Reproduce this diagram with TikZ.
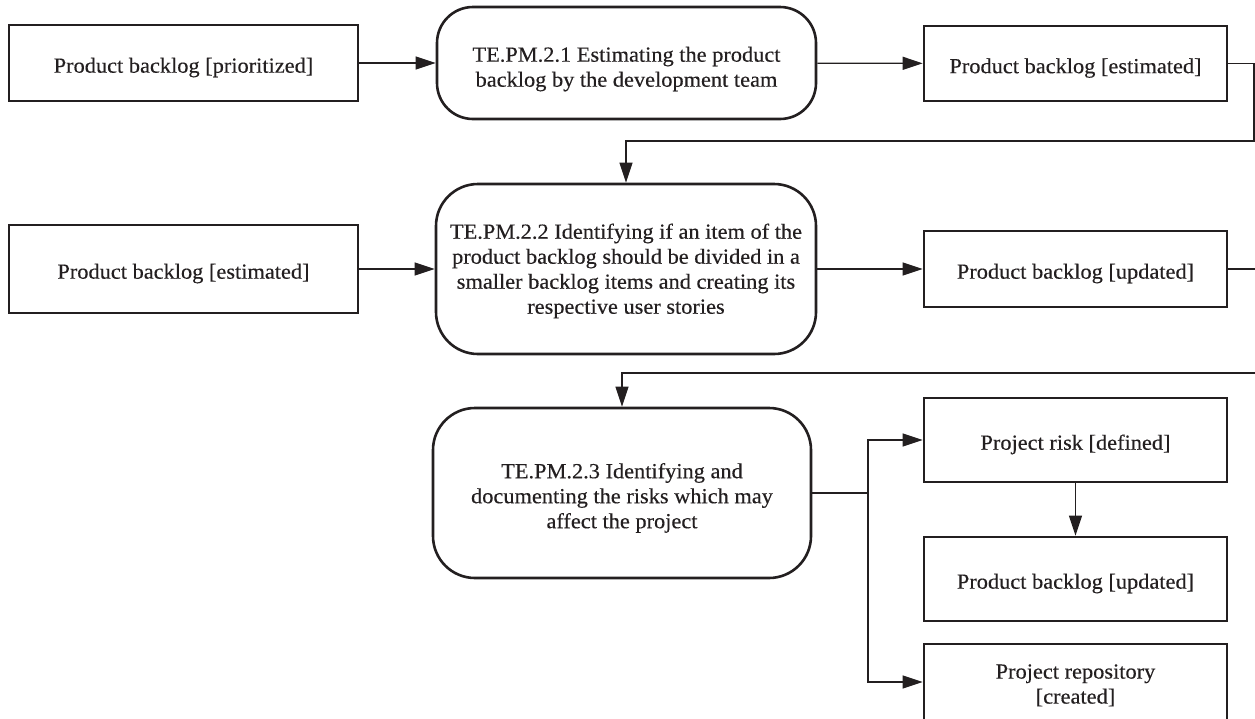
\documentclass[tikz,border=0pt]{standalone}
\usepackage{fontspec}
\setmainfont{Liberation Serif}[FakeStretch=1.04,FakeBold=0.35]
\usetikzlibrary{arrows.meta}
\definecolor{ink}{HTML}{231F20}
% invisible strut that sets the height of a node's first line
\newcommand\firstline[1]{\rule{0pt}{#1}}
\begin{document}
\begin{tikzpicture}[x=1pt,y=-1pt,
  every node/.style={font=\fontsize{21.5pt}{25pt}\selectfont, text=ink},
  artefact/.style={draw=ink, line width=2.6pt, rectangle, align=center, inner sep=0pt},
  activity/.style={draw=ink, line width=2.6pt, rectangle, align=center, inner sep=0pt},
  flow/.style={draw=ink, line width=1.2pt, -{Triangle[length=20pt,width=13pt]}},
  plain/.style={draw=ink, line width=1.2pt}
]
\useasboundingbox (0,0) rectangle (1255,718);

% row 1
\node[artefact, minimum width=349pt, minimum height=76pt] (A) at (183.5,63)
  {\firstline{24pt}Product backlog [prioritized]};
\node[activity, rounded corners=36pt, minimum width=379pt, minimum height=112pt] (P1) at (626.5,63)
  {\firstline{27pt}TE.PM.2.1 Estimating the product\\backlog by the development team};
\node[artefact, minimum width=303pt, minimum height=75pt] (B) at (1075.5,63.5)
  {\firstline{24pt}Product backlog [estimated]};

% row 2
\node[artefact, minimum width=349pt, minimum height=88pt] (C) at (183.5,269)
  {\firstline{24pt}Product backlog [estimated]};
\node[activity, rounded corners=42pt, minimum width=380pt, minimum height=170pt] (P2) at (626,269)
  {\firstline{19pt}TE.PM.2.2 Identifying if an item of the\\product backlog should be divided in a\\smaller backlog items and creating its\\respective user stories};
\node[artefact, minimum width=303pt, minimum height=76pt] (D) at (1075.5,269)
  {\firstline{24pt}Product backlog [updated]};

% row 3
\node[activity, rounded corners=42pt, minimum width=378pt, minimum height=170pt] (P3) at (622,493)
  {\firstline{25pt}TE.PM.2.3 Identifying and\\documenting the risks which may\\affect the project};
\node[artefact, minimum width=303pt, minimum height=84pt] (E) at (1075.5,440)
  {\firstline{24pt}Project risk [defined]};
\node[artefact, minimum width=303pt, minimum height=84pt] (F) at (1075.5,579)
  {\firstline{24pt}Product backlog [updated]};
\node[artefact, minimum width=303pt, minimum height=76pt] (G) at (1075.5,682)
  {\firstline{21pt}Project repository\\{[created]}};

% routing points
\coordinate (r1) at (1254,141);
\coordinate (r2) at (1260,373);
\coordinate (j) at (868,493);

% connectors
\draw[flow] (A) -- (P1);
\draw[flow] (P1) -- (B);
\draw[flow] (B.east) -| (r1) -| (P2.north);
\draw[flow] (C) -- (P2);
\draw[flow] (P2) -- (D);
\draw[flow] (D.east) -| (r2) -| (P3.north);
\draw[plain] (P3.east) -- (j);
\draw[flow] (j) |- (E.west);
\draw[flow] (j) |- (G.west);
\draw[flow] (E) -- (F);
\end{tikzpicture}
\end{document}
